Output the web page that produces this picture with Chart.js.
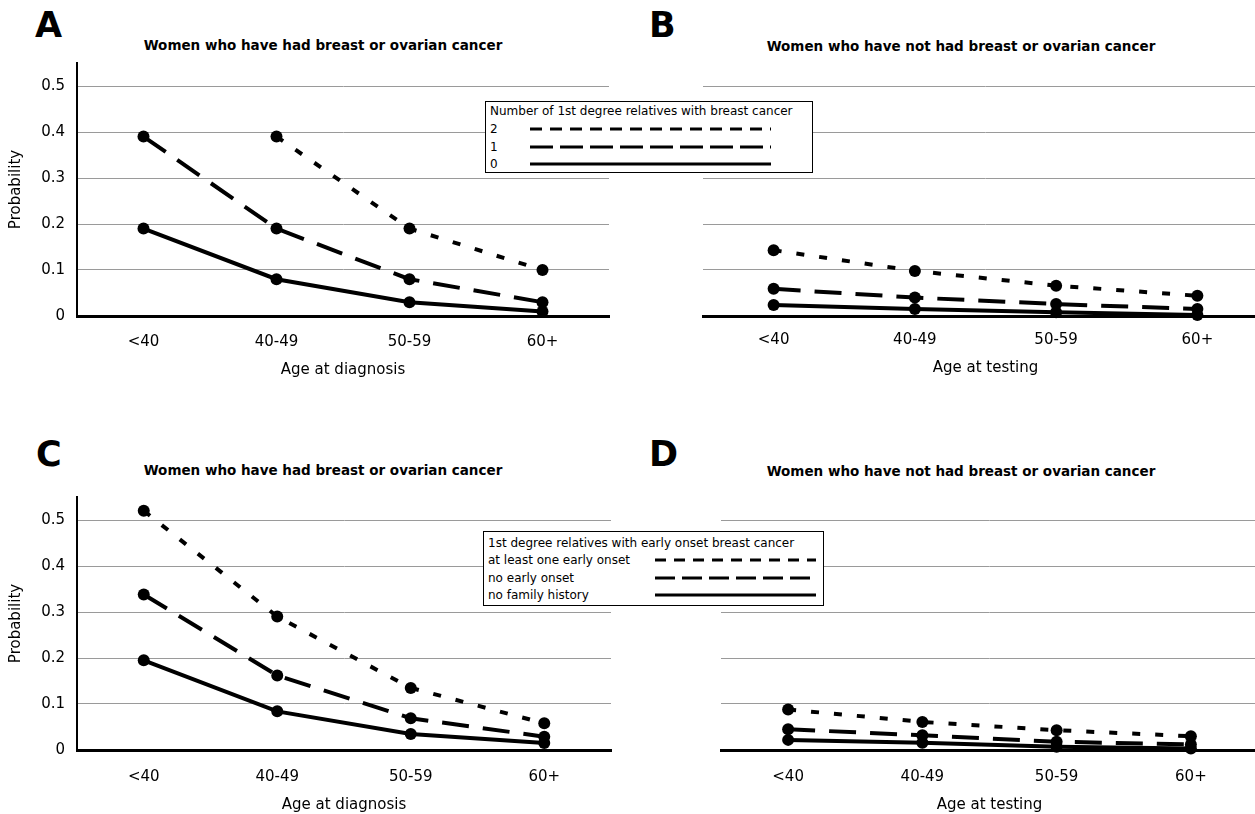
<!DOCTYPE html>
<html><head><meta charset="utf-8">
<script src="https://cdn.jsdelivr.net/npm/chart.js@4.4.1/dist/chart.umd.min.js"></script>
<style>
html,body{margin:0;padding:0;background:#fff;width:1255px;height:814px;overflow:hidden;position:relative;font-family:'DejaVu Sans',sans-serif;color:#000}
canvas{position:absolute}
.letter{position:absolute;font-weight:bold;font-size:35px;line-height:35px;white-space:nowrap}
.title{position:absolute;font-weight:bold;font-size:13.5px;line-height:16px;white-space:nowrap;transform:translateX(-50%)}
.legend{position:absolute;background:#fff;border:1px solid #000;box-sizing:border-box;font-size:12px;z-index:5}
.legend .t{position:absolute;line-height:14px;white-space:nowrap}
.legend svg{position:absolute;left:0;top:0;overflow:visible}
</style>
</head><body>
<div class="letter" style="left:35px;top:8px">A</div>
<div class="letter" style="left:649px;top:8px">B</div>
<div class="letter" style="left:36px;top:437px">C</div>
<div class="letter" style="left:649px;top:437px">D</div>
<div class="title" style="left:323px;top:37px">Women who have had breast or ovarian cancer</div>
<div class="title" style="left:961px;top:38px">Women who have not had breast or ovarian cancer</div>
<div class="title" style="left:323px;top:462px">Women who have had breast or ovarian cancer</div>
<div class="title" style="left:961px;top:463px">Women who have not had breast or ovarian cancer</div>

<canvas id="cA" width="620" height="324" style="left:0;top:55px"></canvas>
<canvas id="cB" width="660" height="322" style="left:620px;top:55px"></canvas>
<canvas id="cC" width="620" height="325" style="left:0;top:489px"></canvas>
<canvas id="cD" width="650" height="325" style="left:620px;top:489px"></canvas>

<div class="legend" id="legA" style="left:485px;top:101px;width:328px;height:72px"></div>
<div class="legend" id="legC" style="left:483px;top:531px;width:341px;height:75px"></div>

<script>
const categories = ['<40', '40-49', '50-59', '60+'];
const yTickValues = [0, 0.1, 0.2, 0.3, 0.4, 0.5];

// Panel A: women who have had breast/ovarian cancer, by number of 1st degree relatives
const panelA_two  = [null, 0.39, 0.19, 0.10];
const panelA_one  = [0.39, 0.19, 0.08, 0.03];
const panelA_zero = [0.19, 0.08, 0.03, 0.01];
// Panel B: women who have not had breast/ovarian cancer
const panelB_two  = [0.143, 0.098, 0.066, 0.044];
const panelB_one  = [0.059, 0.040, 0.026, 0.015];
const panelB_zero = [0.024, 0.015, 0.008, 0.002];
// Panel C: by early onset among relatives
const panelC_early     = [0.52, 0.29, 0.135, 0.058];
const panelC_noEarly   = [0.338, 0.162, 0.069, 0.029];
const panelC_noHistory = [0.195, 0.084, 0.035, 0.015];
// Panel D
const panelD_early     = [0.088, 0.061, 0.043, 0.030];
const panelD_noEarly   = [0.045, 0.032, 0.018, 0.012];
const panelD_noHistory = [0.022, 0.016, 0.007, 0.003];

const legendA_title = 'Number of 1st degree relatives with breast cancer';
const legendA_labels = ['2', '1', '0'];
const legendC_title = '1st degree relatives with early onset breast cancer';
const legendC_labels = ['at least one early onset', 'no early onset', 'no family history'];

Chart.defaults.font.family = "'DejaVu Sans', sans-serif";
Chart.defaults.color = '#000';

const SHORT = [8, 15], LONG = [27, 14], SOLID = [];

function ds(label, data, dash) {
  return {
    label, data, borderDash: dash, borderColor: '#000', backgroundColor: '#000',
    borderWidth: 4, pointRadius: 6, pointBackgroundColor: '#000', pointBorderWidth: 0,
    tension: 0, spanGaps: false, clip: false, fill: false
  };
}

function zeroPad(s) { s.paddingTop = 0; s.paddingBottom = 0; s.paddingLeft = 0; s.paddingRight = 0; }

function makeChart(id, cfg) {
  return new Chart(document.getElementById(id), {
    type: 'line',
    data: { labels: categories, datasets: cfg.series },
    options: {
      responsive: false, animation: false,
      layout: { padding: { top: 8, right: cfg.padRight, left: 0, bottom: 0 } },
      plugins: { legend: { display: false }, tooltip: { enabled: false } },
      scales: {
        x: {
          type: 'category', offset: true,
          grid: { display: false, drawTicks: false },
          border: { display: true, color: '#000', width: 3 },
          ticks: { padding: cfg.labelPad, color: '#000', font: { size: 15 }, maxRotation: 0, autoSkip: false },
          title: { display: true, text: cfg.xTitle, color: '#000', font: { size: 15 }, padding: { top: 0, bottom: 0 } },
          afterFit: s => { s.height = cfg.xAxisHeight; zeroPad(s); }
        },
        y: {
          min: 0, max: 0.55,
          afterBuildTicks: s => { s.ticks = yTickValues.map(v => ({ value: v })); },
          grid: { color: c => (c.tick && c.tick.value === 0) ? 'rgba(0,0,0,0)' : '#9a9a9a', lineWidth: 1, drawTicks: false },
          border: { display: cfg.showY, color: '#000', width: 2 },
          ticks: { display: cfg.showY, padding: 12, color: '#000', font: { size: 15 },
                   callback: v => v === 0 ? '0' : Number(v).toFixed(1) },
          title: { display: cfg.showY, text: 'Probability', color: '#000', font: { size: 15 }, padding: { top: 7, bottom: 0 } },
          afterFit: s => { s.width = cfg.yAxisWidth; zeroPad(s); }
        }
      }
    }
  });
}

makeChart('cA', { yAxisWidth: 77, padRight: 11, labelPad: 17, xAxisHeight: 63, showY: true, xTitle: 'Age at diagnosis',
  series: [ds(legendA_labels[0], panelA_two, SHORT), ds(legendA_labels[1], panelA_one, LONG), ds(legendA_labels[2], panelA_zero, SOLID)] });
makeChart('cB', { yAxisWidth: 83, padRight: 12, labelPad: 15, xAxisHeight: 61, showY: false, xTitle: 'Age at testing',
  series: [ds(legendA_labels[0], panelB_two, SHORT), ds(legendA_labels[1], panelB_one, LONG), ds(legendA_labels[2], panelB_zero, SOLID)] });
makeChart('cC', { yAxisWidth: 77, padRight: 9, labelPad: 18, xAxisHeight: 64, showY: true, xTitle: 'Age at diagnosis',
  series: [ds(legendC_labels[0], panelC_early, SHORT), ds(legendC_labels[1], panelC_noEarly, LONG), ds(legendC_labels[2], panelC_noHistory, SOLID)] });
makeChart('cD', { yAxisWidth: 101, padRight: 12, labelPad: 18, xAxisHeight: 64, showY: false, xTitle: 'Age at testing',
  series: [ds(legendC_labels[0], panelD_early, SHORT), ds(legendC_labels[1], panelD_noEarly, LONG), ds(legendC_labels[2], panelD_noHistory, SOLID)] });

function buildLegend(id, title, labels, rowsY, lineX1, lineX2, dashes) {
  const box = document.getElementById(id);
  const NS = 'http://www.w3.org/2000/svg';
  const mk = (txt, x, yc) => { const d = document.createElement('div'); d.className = 't'; d.textContent = txt; d.style.left = x + 'px'; d.style.top = (yc - 7) + 'px'; box.appendChild(d); };
  mk(title, 4, rowsY[0]);
  const svg = document.createElementNS(NS, 'svg');
  svg.setAttribute('width', box.clientWidth); svg.setAttribute('height', box.clientHeight);
  labels.forEach((lab, i) => {
    mk(lab, 4, rowsY[i + 1]);
    const ln = document.createElementNS(NS, 'line');
    ln.setAttribute('x1', lineX1); ln.setAttribute('x2', lineX2);
    ln.setAttribute('y1', rowsY[i + 1]); ln.setAttribute('y2', rowsY[i + 1]);
    ln.setAttribute('stroke', '#000'); ln.setAttribute('stroke-width', '3');
    if (dashes[i]) ln.setAttribute('stroke-dasharray', dashes[i]);
    svg.appendChild(ln);
  });
  box.appendChild(svg);
}
buildLegend('legA', legendA_title, legendA_labels, [9, 27, 45, 62], 44, 285, ['12 8', '23 7', null]);
buildLegend('legC', legendC_title, legendC_labels, [11, 28, 46, 63], 171, 332, ['11 8', '20 7', null]);
</script>
</body></html>
